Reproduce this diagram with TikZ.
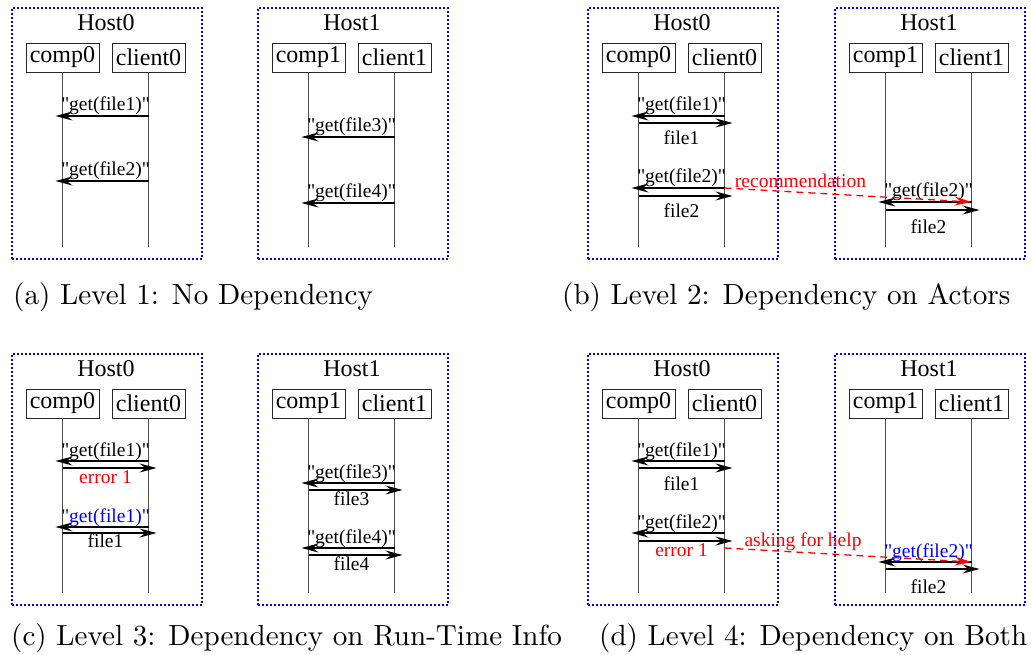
\documentclass[tikz,border=0pt]{standalone}
\usepackage{fontspec}
\usepackage{graphicx}
\newfontfamily\tms{Liberation Serif}
\usetikzlibrary{arrows.meta,calc}
\newcounter{lblc}
\tikzset{
  hostframe/.style={draw=blue, line width=2pt, dash pattern=on 1.6pt off 2.4pt, minimum width=190pt, minimum height=251pt, inner sep=0pt, anchor=north west},
  hostlbl/.style={font=\tms\fontsize{24}{28}\selectfont, inner sep=0pt},
  actor/.style={draw=black!85, fill=white, line width=0.9pt, minimum width=73pt, minimum height=29pt, inner sep=0pt, font=\tms\fontsize{24}{28}\selectfont},
  life/.style={draw=black!70, line width=1pt},
  msg/.style={-{Stealth[length=17pt,width=9pt,inset=6pt]}, line width=1.1pt, shorten >=-7pt},
  lbl/.style={font=\tms\fontsize{19.5}{22}\selectfont, inner sep=0pt},
  hint/.style={draw=red, line width=1.3pt, dash pattern=on 7pt off 5pt, -{Stealth[length=17pt,width=9pt,inset=6pt]}},
  captxt/.style={inner sep=0pt, anchor=base west},
}
% #1 prefix, #2 x, #3 y, #4 host, #5 comp, #6 client
\newcommand{\hostpanel}[6]{%
  \node[hostframe] (#1h) at (#2,#3) {};
  \node[hostlbl] (#1t) at ({#2+95},{#3+16}) {#4};
  \node[actor] (#1c) at ({#2+51.5},{#3+50.5}) {#5};
  \node[actor] (#1l) at ({#2+137.5},{#3+50.5}) {#6};
  \coordinate (#1ce) at ({#2+51.5},{#3+240});
  \coordinate (#1le) at ({#2+137.5},{#3+240});
  \coordinate (#1m) at ({#2+94.5},{#3+240});
  \draw[life] (#1c) -- (#1ce);
  \draw[life] (#1l) -- (#1le);
}
% request: #1 prefix, #2 y, #3 label, #4 colour
\newcommand{\reqmsg}[4]{%
  \draw[msg] (#1l |- 0,#2) -- (#1c |- 0,#2);
  \stepcounter{lblc}%
  \node[lbl, text=#4, anchor=base] (lb\arabic{lblc}) at ($(#1m |- 0,#2)+(0,-5)$) {#3};
}
% reply: #1 prefix, #2 y, #3 label, #4 colour, #5 label centre y
\newcommand{\repmsg}[5]{%
  \draw[msg, shorten >=-8pt] (#1c |- 0,#2) -- (#1l |- 0,#2);
  \stepcounter{lblc}%
  \node[lbl, text=#4] (lb\arabic{lblc}) at (#1m |- 0,#5) {#3};
}
\begin{document}
\begin{tikzpicture}[x=1pt,y=-1pt]
\useasboundingbox (0,0) rectangle (1031,655);
% (a)
\hostpanel{aA}{11}{7}{Host0}{comp0}{client0}
\hostpanel{aB}{257}{7}{Host1}{comp1}{client1}
\reqmsg{aA}{116}{"get(file1)"}{black}
\reqmsg{aA}{181}{"get(file2)"}{black}
\reqmsg{aB}{137}{"get(file3)"}{black}
\reqmsg{aB}{203}{"get(file4)"}{black}
% (b)
\hostpanel{bA}{587}{7}{Host0}{comp0}{client0}
\hostpanel{bB}{834}{7}{Host1}{comp1}{client1}
\reqmsg{bA}{116}{"get(file1)"}{black}
\repmsg{bA}{123}{file1}{black}{138}
\reqmsg{bA}{188}{"get(file2)"}{black}
\repmsg{bA}{196}{file2}{black}{211}
\reqmsg{bB}{202}{"get(file2)"}{black}
\repmsg{bB}{210}{file2}{black}{227}
\coordinate (bs) at (bAl |- 0,188);
\coordinate (be) at (bBl |- 0,202);
\draw[hint] (bs) -- (be);
\node[lbl, text=red, anchor=base] (rec) at (800.5,188) {recommendation};
% (c)
\hostpanel{cA}{11}{353}{Host0}{comp0}{client0}
\hostpanel{cB}{257}{353}{Host1}{comp1}{client1}
\reqmsg{cA}{461}{"get(file1)"}{black}
\repmsg{cA}{468}{error 1}{red}{477}
\reqmsg{cA}{527}{"get(file1)"}{blue}
\repmsg{cA}{533}{file1}{black}{541}
\reqmsg{cB}{483}{"get(file3)"}{black}
\repmsg{cB}{490}{file3}{black}{499}
\reqmsg{cB}{548}{"get(file4)"}{black}
\repmsg{cB}{555}{file4}{black}{564}
% (d)
\hostpanel{dA}{587}{353}{Host0}{comp0}{client0}
\hostpanel{dB}{834}{353}{Host1}{comp1}{client1}
\reqmsg{dA}{461}{"get(file1)"}{black}
\repmsg{dA}{468}{file1}{black}{484}
\reqmsg{dA}{533}{"get(file2)"}{black}
\repmsg{dA}{541}{error 1}{red}{550}
\reqmsg{dB}{562}{"get(file2)"}{blue}
\repmsg{dB}{569}{file2}{black}{587}
\coordinate (ds) at (dAl |- 0,548);
\coordinate (de) at (dBl |- 0,562);
\draw[hint] (ds) -- (de);
\node[lbl, text=red, anchor=base] (ask) at (803,546) {asking for help};
% captions
\node[captxt] (capa) at (13,305) {\scalebox{2.91}{(a) Level 1: No Dependency}};
\node[captxt] (capb) at (562,305) {\scalebox{2.91}{(b) Level 2: Dependency on Actors}};
\node[captxt] (capc) at (11,645) {\scalebox{2.91}{(c) Level 3: Dependency on Run-Time Info}};
\node[captxt] (capd) at (599,645) {\scalebox{2.91}{(d) Level 4: Dependency on Both}};
\end{tikzpicture}
\end{document}
